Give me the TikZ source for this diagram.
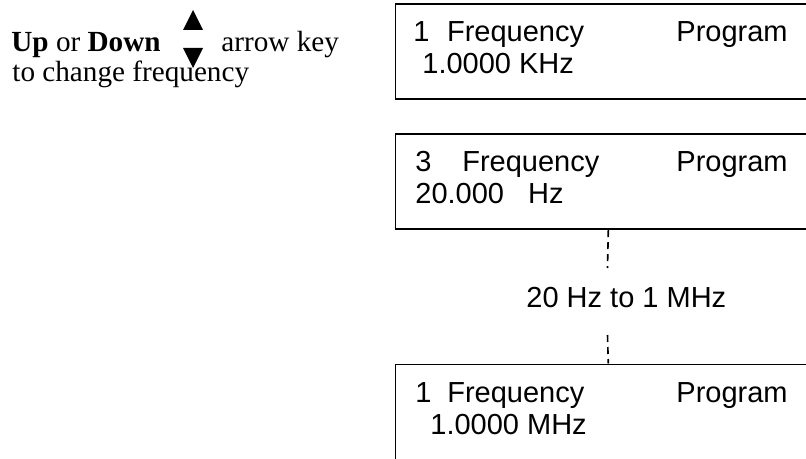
\documentclass[tikz,border=0pt]{standalone}
\usepackage{fontspec}
\setmainfont{Liberation Serif}
\newfontfamily\lcdfont{Liberation Sans}
\usetikzlibrary{positioning,calc}

\tikzset{
	lcd/.style={rectangle, draw, line width=0.8pt, minimum width=213pt, minimum height=47.5pt, anchor=north west, inner sep=0pt},
	lcdline/.style={anchor=base west, inner sep=0pt, font=\lcdfont\fontsize{14.5}{16}\selectfont},
	keyline/.style={anchor=base west, inner sep=0pt, font=\fontsize{14.6}{16}\selectfont},
	gap/.style={line width=0.8pt, dash pattern=on 3.5pt off 2.5pt},
}

\begin{document}
\begin{tikzpicture}[x=0.5pt, y=-0.5pt]
	\clip (0,0) rectangle (806,459);
	\useasboundingbox (0,0) rectangle (806,459);

	% key hint
	\node[keyline] (updown) at (11,52) {\textbf{Up} or \textbf{Down}};
	\node[keyline] (arrowkey) at (221,52) {arrow key};
	\node[keyline] (change) at (12,82) {to change frequency};
	\fill (183,30) -- (193,10) -- (203,30) -- cycle;
	\fill (183,48) -- (193,68) -- (203,48) -- cycle;

	% displays
	\node[lcd] (freqKHz) at (394.5,3) {};
	\node[lcdline] (freqKHzA) at ($(freqKHz.north west)+(18.5,38.5)$) {1\hspace{8.8pt}Frequency};
	\node[lcdline] (freqKHzP) at ($(freqKHz.north west)+(281.5,38.5)$) {Program};
	\node[lcdline] (freqKHzB) at ($(freqKHz.north west)+(27.5,70.5)$) {1.0000 KHz};

	\node[lcd] (freqHz) at (394.5,133.5) {};
	\node[lcdline] (freqHzA) at ($(freqHz.north west)+(20.5,38.5)$) {3\hspace{15.4pt}Frequency};
	\node[lcdline] (freqHzP) at ($(freqHz.north west)+(281.5,38.5)$) {Program};
	\node[lcdline] (freqHzB) at ($(freqHz.north west)+(20.5,70.5)$) {20.000\hspace{12pt}Hz};

	\node[lcd, minimum height=50pt] (freqMHz) at (394.5,363.5) {};
	\node[lcdline] (freqMHzA) at ($(freqMHz.north west)+(20.5,38.5)$) {1\hspace{7.9pt}Frequency};
	\node[lcdline] (freqMHzP) at ($(freqMHz.north west)+(281.5,38.5)$) {Program};
	\node[lcdline] (freqMHzB) at ($(freqMHz.north west)+(35.5,70.5)$) {1.0000 MHz};

	% range
	\node[lcdline] (range) at (526,307) {20 Hz to 1 MHz};
	\coordinate (gapTop) at (607.5,268);
	\coordinate (gapBot) at (607.5,335);
	\draw[gap] (freqHz.south) -- (gapTop);
	\draw[gap] (gapBot) -- (freqMHz.north);
\end{tikzpicture}
\end{document}
